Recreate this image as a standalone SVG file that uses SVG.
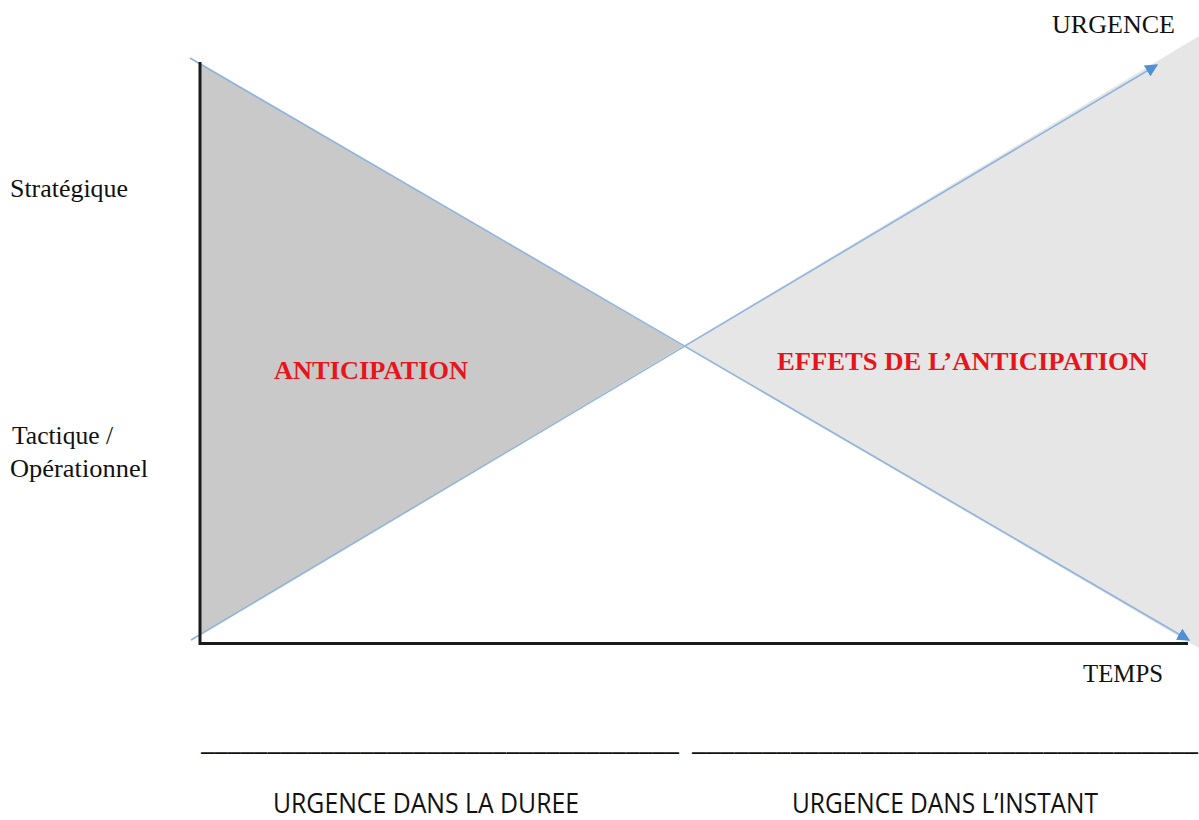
<svg xmlns="http://www.w3.org/2000/svg" width="1199" height="820" viewBox="0 0 1199 820">
<defs>
<style>
.lbl{font-family:"Liberation Serif","Times New Roman",serif;font-size:25.5px;fill:#111}
.red{font-family:"Liberation Serif","Times New Roman",serif;font-weight:bold;font-size:25.5px;fill:#e8141c}
.bot{font-family:"Open Sans","Liberation Sans",sans-serif;font-size:27px;fill:#111}
.conn{stroke:#8fb4dd;stroke-width:1.6;fill:none}
.axis{stroke:#1a1a1a;stroke-width:3;fill:none}
</style>
<marker id="arr" viewBox="0 0 10 10" refX="9" refY="5" markerWidth="8" markerHeight="8" orient="auto" markerUnits="strokeWidth">
<path d="M0,0 L10,5 L0,10 z" fill="#4f8fd4"/>
</marker>
</defs>
<rect width="1199" height="820" fill="#fff"/>
<g id="regions">
<polygon points="200,63 683,346 200,635" fill="#c9c9c9"/>
<polygon points="683,346 1199,36 1199,648 1190,643" fill="#e6e6e6"/>
</g>
<g id="connectors">
<line class="conn" x1="190" y1="58" x2="1189" y2="640" marker-end="url(#arr)"/>
<line class="conn" x1="191" y1="640" x2="1157" y2="65" marker-end="url(#arr)"/>
</g>
<g id="axes">
<line class="axis" x1="200" y1="62" x2="200" y2="645"/>
<line class="axis" x1="199" y1="643.5" x2="1188" y2="643.5"/>
</g>
<g id="labels">
<text class="lbl" x="1052" y="33" textLength="123" lengthAdjust="spacingAndGlyphs">URGENCE</text>
<text class="lbl" x="1083" y="682" textLength="80" lengthAdjust="spacingAndGlyphs">TEMPS</text>
<text class="lbl" x="10" y="197" textLength="118" lengthAdjust="spacingAndGlyphs">Stratégique</text>
<text class="lbl" x="12" y="444" textLength="101" lengthAdjust="spacingAndGlyphs">Tactique /</text>
<text class="lbl" x="10" y="477" textLength="138" lengthAdjust="spacingAndGlyphs">Opérationnel</text>
</g>
<g id="anticipation">
<text class="red" x="274" y="379" textLength="194" lengthAdjust="spacingAndGlyphs">ANTICIPATION</text>
</g>
<g id="effets">
<text class="red" x="777" y="370" textLength="371" lengthAdjust="spacingAndGlyphs">EFFETS DE L’ANTICIPATION</text>
</g>
<g id="bottom">
<text class="bot" x="201" y="750" textLength="478" lengthAdjust="spacingAndGlyphs">____________________________________</text>
<text class="bot" x="692" y="750" textLength="506" lengthAdjust="spacingAndGlyphs">____________________________________</text>
<text class="bot" x="273" y="813" textLength="306" lengthAdjust="spacingAndGlyphs">URGENCE DANS LA DUREE</text>
<text class="bot" x="792" y="813" textLength="306" lengthAdjust="spacingAndGlyphs">URGENCE DANS L’INSTANT</text>
</g>
</svg>
